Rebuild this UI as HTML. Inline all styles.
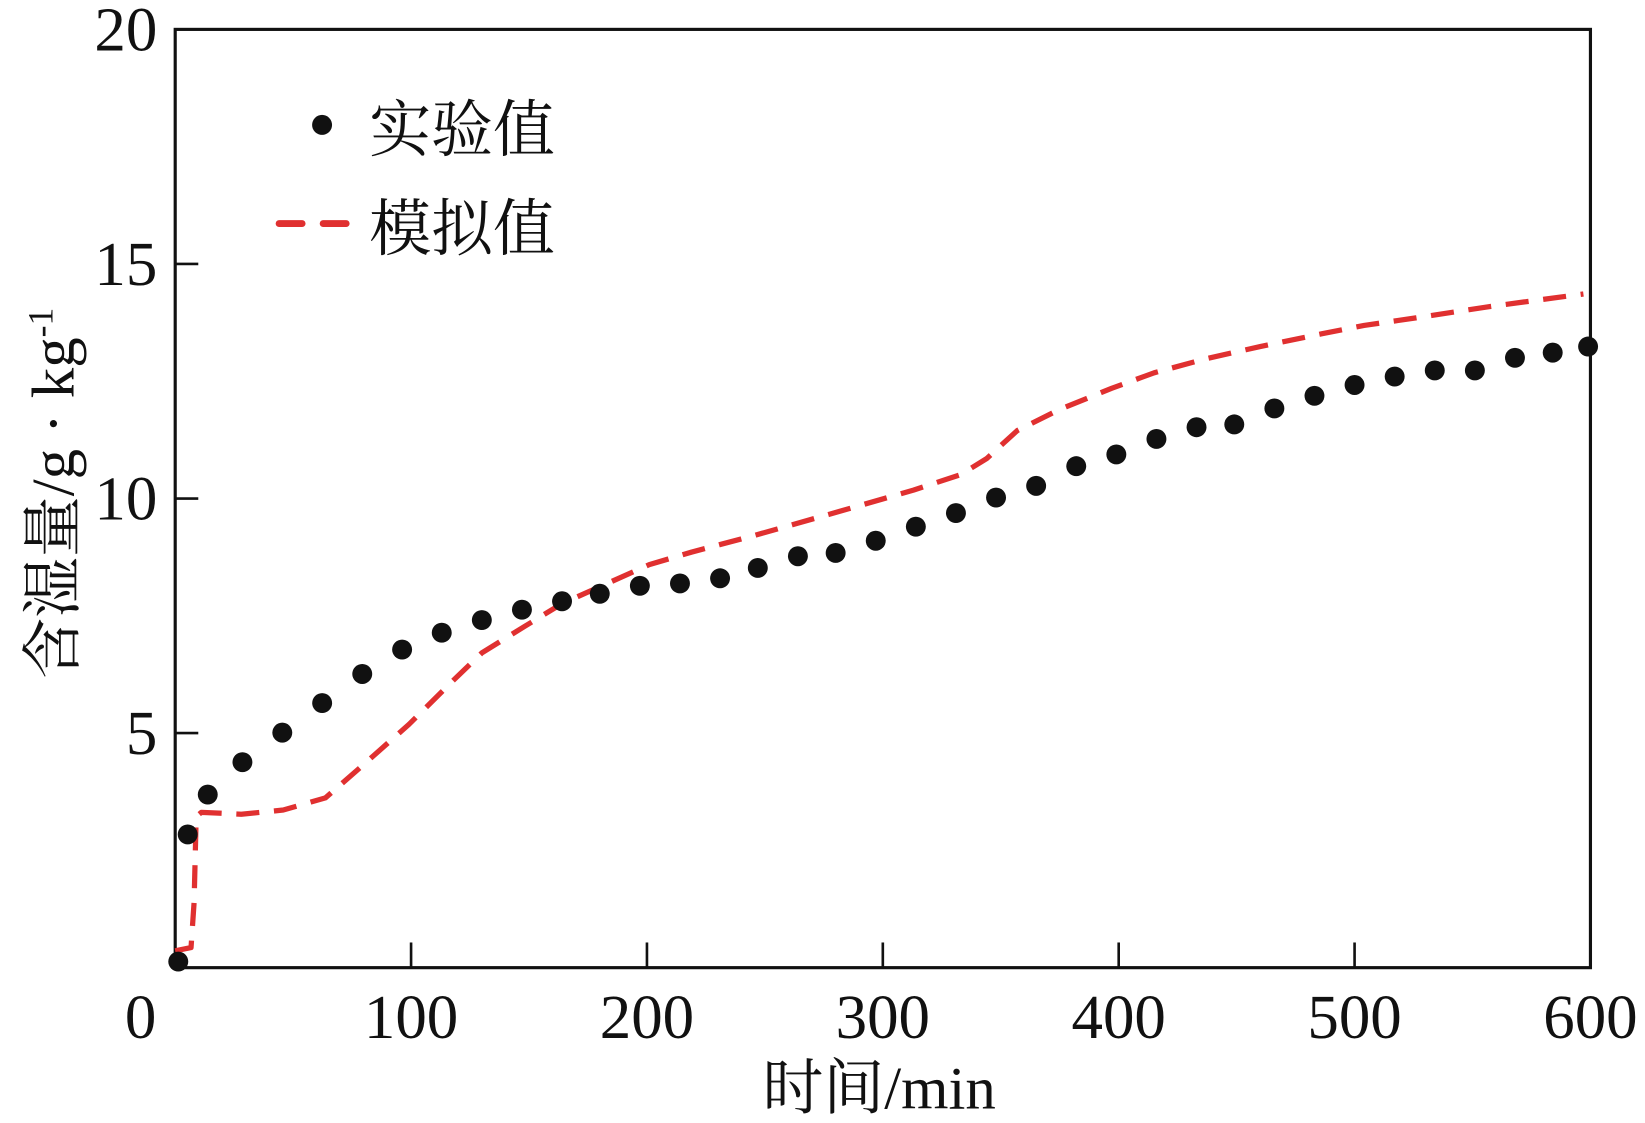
<!DOCTYPE html>
<html><head><meta charset="utf-8"><style>
html,body{margin:0;padding:0;background:#fff;}
svg{display:block;}
text{font-family:"Liberation Serif","Noto Serif CJK SC",serif;fill:#111;}
</style></head><body>
<svg id="chart" width="1645" height="1123" viewBox="0 0 1568 1070" preserveAspectRatio="none" xmlns="http://www.w3.org/2000/svg">
<g id="axes"></g>
<g id="series"></g>
<g>
  <circle cx="307" cy="119" r="9.5" fill="#111"/>
  <text x="352" y="144" font-size="59">实验值</text>
  <line x1="266" y1="213" x2="330" y2="213" stroke="#e03030" stroke-width="6.5" stroke-dasharray="22,20" stroke-linecap="round"/>
  <text x="352" y="238" font-size="59">模拟值</text>
</g>
<text x="838" y="1056" font-size="58" text-anchor="middle">时间/min</text>
<text transform="translate(70,470) rotate(-90)" font-size="58" text-anchor="middle">含湿量/g · kg<tspan dy="-20" font-size="34">-1</tspan></text>
</svg>
<script>
const xTicks=[0,100,200,300,400,500,600];
const yTicks=[5,10,15,20];
const expTime=[1.3,5.3,13.8,28.5,45.4,62.3,79.3,96.2,113,130,147,164,180,197,214,231,247,264,280,297,314,331,348,365,382,399,416,433,449,466,483,500,517,534,551,568,584,599];
const expValue=[0.13,2.84,3.69,4.38,5.01,5.64,6.26,6.78,7.14,7.41,7.63,7.81,7.97,8.14,8.19,8.30,8.52,8.77,8.84,9.10,9.40,9.69,10.02,10.27,10.69,10.94,11.27,11.52,11.58,11.92,12.19,12.42,12.60,12.73,12.73,13.00,13.11,13.24];
const simTime=[0,6.7,8.0,8.9,11.1,28,45.8,63.7,79.2,99.2,117,130,148,164,181,201,219,246,277,313,333,344,357,375,397,415,437,460,486,504,526,557,597];
const simValue=[0.36,0.43,1.39,3.22,3.31,3.27,3.36,3.62,4.30,5.19,6.08,6.71,7.27,7.76,8.14,8.59,8.86,9.22,9.66,10.18,10.51,10.85,11.45,11.90,12.35,12.68,12.98,13.24,13.51,13.69,13.85,14.09,14.36];

const L=167,R=1516,T=28,B=922;
const xs=t=>L+(R-L)*t/600;
const ys=v=>B-(B-T)*v/20;
const NS="http://www.w3.org/2000/svg";
function mk(tag,attrs,parent){const e=document.createElementNS(NS,tag);for(const k in attrs)e.setAttribute(k,attrs[k]);parent.appendChild(e);return e;}
const axes=document.getElementById('axes');
const series=document.getElementById('series');

let frame=mk('rect',{x:L,y:T,width:R-L,height:B-T,fill:'none',stroke:'#111','stroke-width':3},axes);



xTicks.forEach(t=>{
  if(t>0&&t<600){let tk=mk('line',{x1:xs(t),x2:xs(t),y1:B,y2:B-24,stroke:'#111','stroke-width':2.5},axes);
  
  }
  let x=t===0?xs(t)-33:xs(t);
  let lb=mk('text',{x:x,y:B+67,'font-size':60,'text-anchor':'middle'},axes);
  lb.textContent=t;
  
  
});
yTicks.forEach(v=>{
  if(v<20){let tk=mk('line',{x1:L,x2:L+22,y1:ys(v),y2:ys(v),stroke:'#111','stroke-width':2.5},axes);
  
  }
  let lb=mk('text',{x:150,y:ys(v)+20,'font-size':60,'text-anchor':'end'},axes);
  lb.textContent=v;
  
  
});

let d=simTime.map((t,i)=>(i?'L':'M')+xs(t).toFixed(1)+','+ys(simValue[i]).toFixed(1)).join(' ');
let sim=mk('path',{d:d,fill:'none',stroke:'#e03030','stroke-width':5,'stroke-dasharray':'22,14','stroke-linejoin':'round'},series);



expTime.forEach((t,i)=>{
  let c=mk('circle',{cx:xs(t),cy:ys(expValue[i]),r:9.5,fill:'#111'},series);
  
  
});
</script>
</body></html>
